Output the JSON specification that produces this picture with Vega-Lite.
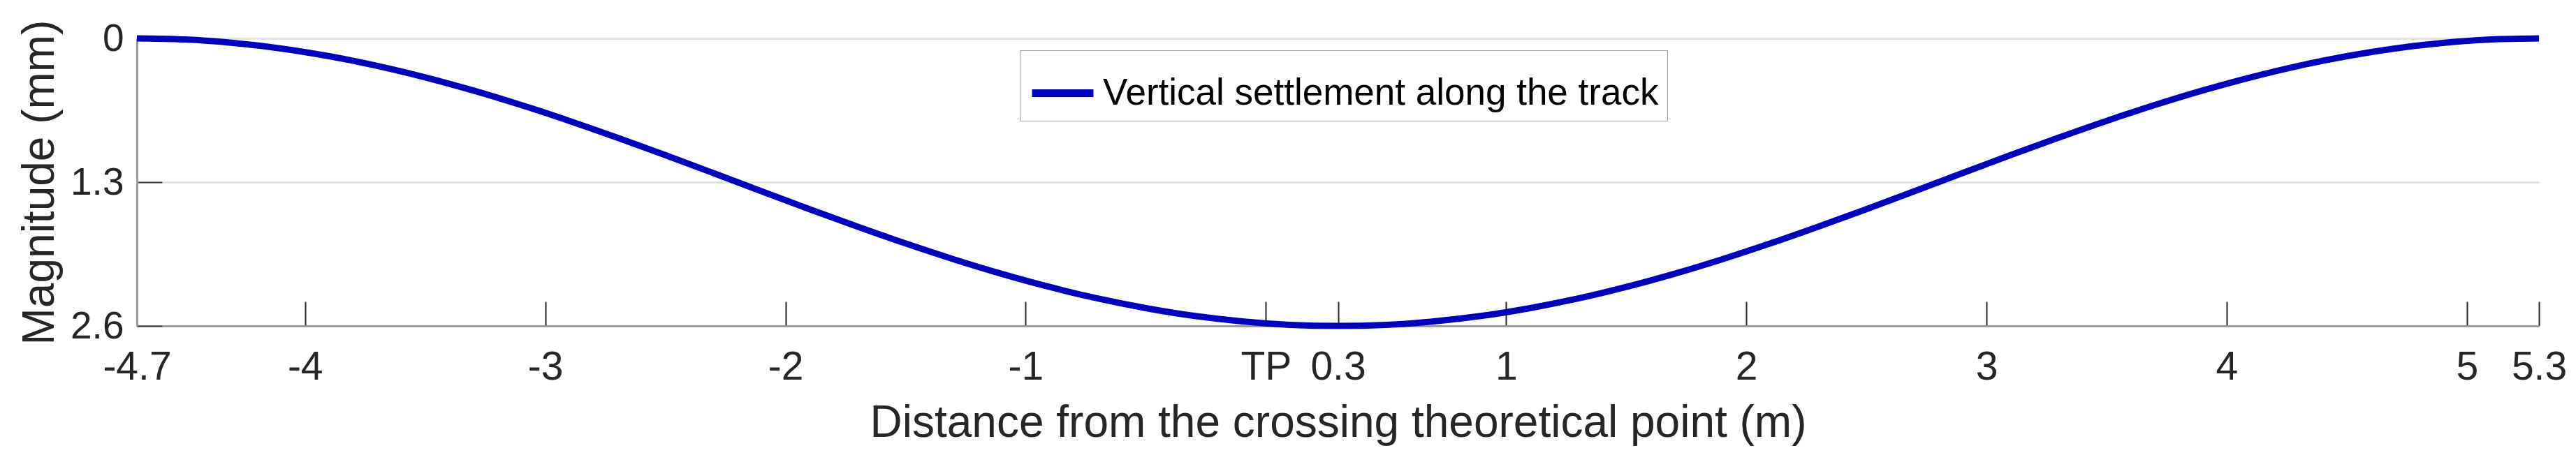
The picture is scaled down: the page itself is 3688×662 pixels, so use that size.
{
  "$schema": "https://vega.github.io/schema/vega-lite/v6.json",
  "autosize": "none",
  "width": 3439,
  "height": 412,
  "padding": {"left": 196, "top": 55, "right": 53, "bottom": 195},
  "background": "white",
  "config": {
    "view": {"stroke": null},
    "font": "Liberation Sans, Arial, sans-serif"
  },
  "data": {
    "values": [
      {"distance": -4.7, "settlement": 0.0, "series": "Vertical settlement along the track"},
      {"distance": -4.5, "settlement": 0.010, "series": "Vertical settlement along the track"},
      {"distance": -4.3, "settlement": 0.041, "series": "Vertical settlement along the track"},
      {"distance": -4.1, "settlement": 0.091, "series": "Vertical settlement along the track"},
      {"distance": -3.9, "settlement": 0.161, "series": "Vertical settlement along the track"},
      {"distance": -3.7, "settlement": 0.248, "series": "Vertical settlement along the track"},
      {"distance": -3.5, "settlement": 0.352, "series": "Vertical settlement along the track"},
      {"distance": -3.3, "settlement": 0.471, "series": "Vertical settlement along the track"},
      {"distance": -3.1, "settlement": 0.603, "series": "Vertical settlement along the track"},
      {"distance": -2.9, "settlement": 0.746, "series": "Vertical settlement along the track"},
      {"distance": -2.7, "settlement": 0.898, "series": "Vertical settlement along the track"},
      {"distance": -2.5, "settlement": 1.056, "series": "Vertical settlement along the track"},
      {"distance": -2.3, "settlement": 1.218, "series": "Vertical settlement along the track"},
      {"distance": -2.1, "settlement": 1.382, "series": "Vertical settlement along the track"},
      {"distance": -1.9, "settlement": 1.544, "series": "Vertical settlement along the track"},
      {"distance": -1.7, "settlement": 1.702, "series": "Vertical settlement along the track"},
      {"distance": -1.5, "settlement": 1.854, "series": "Vertical settlement along the track"},
      {"distance": -1.3, "settlement": 1.997, "series": "Vertical settlement along the track"},
      {"distance": -1.1, "settlement": 2.129, "series": "Vertical settlement along the track"},
      {"distance": -0.9, "settlement": 2.248, "series": "Vertical settlement along the track"},
      {"distance": -0.7, "settlement": 2.352, "series": "Vertical settlement along the track"},
      {"distance": -0.5, "settlement": 2.439, "series": "Vertical settlement along the track"},
      {"distance": -0.3, "settlement": 2.509, "series": "Vertical settlement along the track"},
      {"distance": -0.1, "settlement": 2.559, "series": "Vertical settlement along the track"},
      {"distance": 0.1, "settlement": 2.590, "series": "Vertical settlement along the track"},
      {"distance": 0.3, "settlement": 2.6, "series": "Vertical settlement along the track"},
      {"distance": 0.5, "settlement": 2.590, "series": "Vertical settlement along the track"},
      {"distance": 0.7, "settlement": 2.559, "series": "Vertical settlement along the track"},
      {"distance": 0.9, "settlement": 2.509, "series": "Vertical settlement along the track"},
      {"distance": 1.1, "settlement": 2.439, "series": "Vertical settlement along the track"},
      {"distance": 1.3, "settlement": 2.352, "series": "Vertical settlement along the track"},
      {"distance": 1.5, "settlement": 2.248, "series": "Vertical settlement along the track"},
      {"distance": 1.7, "settlement": 2.129, "series": "Vertical settlement along the track"},
      {"distance": 1.9, "settlement": 1.997, "series": "Vertical settlement along the track"},
      {"distance": 2.1, "settlement": 1.854, "series": "Vertical settlement along the track"},
      {"distance": 2.3, "settlement": 1.702, "series": "Vertical settlement along the track"},
      {"distance": 2.5, "settlement": 1.544, "series": "Vertical settlement along the track"},
      {"distance": 2.7, "settlement": 1.382, "series": "Vertical settlement along the track"},
      {"distance": 2.9, "settlement": 1.218, "series": "Vertical settlement along the track"},
      {"distance": 3.1, "settlement": 1.056, "series": "Vertical settlement along the track"},
      {"distance": 3.3, "settlement": 0.898, "series": "Vertical settlement along the track"},
      {"distance": 3.5, "settlement": 0.746, "series": "Vertical settlement along the track"},
      {"distance": 3.7, "settlement": 0.603, "series": "Vertical settlement along the track"},
      {"distance": 3.9, "settlement": 0.471, "series": "Vertical settlement along the track"},
      {"distance": 4.1, "settlement": 0.352, "series": "Vertical settlement along the track"},
      {"distance": 4.3, "settlement": 0.248, "series": "Vertical settlement along the track"},
      {"distance": 4.5, "settlement": 0.161, "series": "Vertical settlement along the track"},
      {"distance": 4.7, "settlement": 0.091, "series": "Vertical settlement along the track"},
      {"distance": 4.9, "settlement": 0.041, "series": "Vertical settlement along the track"},
      {"distance": 5.1, "settlement": 0.010, "series": "Vertical settlement along the track"},
      {"distance": 5.3, "settlement": 0.0, "series": "Vertical settlement along the track"}
    ]
  },
  "mark": {"type": "line", "strokeWidth": 9, "interpolate": "monotone", "clip": false},
  "encoding": {
    "x": {
      "field": "distance",
      "type": "quantitative",
      "scale": {"domain": [-4.7, 5.3], "nice": false, "zero": false},
      "axis": {
        "title": "Distance from the crossing theoretical point (m)",
        "titleFont": "Liberation Sans",
        "titleFontSize": 64,
        "titleFontWeight": "normal",
        "titleColor": "#262626",
        "titlePadding": 20,
        "values": [-4.7, -4, -3, -2, -1, 0, 0.3, 1, 2, 3, 4, 5, 5.3],
        "labelExpr": "datum.value == 0 ? 'TP' : toString(datum.value)",
        "labelFont": "Liberation Sans",
        "labelFontSize": 57,
        "labelColor": "#262626",
        "labelOverlap": false,
        "labelFlush": false,
        "labelBound": false,
        "labelPadding": 66,
        "tickSize": -35,
        "tickWidth": 2,
        "tickColor": "#262626",
        "domainColor": "#9a9a9a",
        "domainWidth": 3,
        "grid": false
      }
    },
    "y": {
      "field": "settlement",
      "type": "quantitative",
      "scale": {"domain": [0, 2.6], "reverse": true, "nice": false, "zero": false},
      "axis": {
        "title": "Magnitude (mm)",
        "titleFont": "Liberation Sans",
        "titleFontSize": 64,
        "titleFontWeight": "normal",
        "titleColor": "#262626",
        "titlePadding": 11,
        "values": [0, 1.3, 2.6],
        "labelExpr": "toString(datum.value)",
        "labelFont": "Liberation Sans",
        "labelFontSize": 55,
        "labelColor": "#262626",
        "labelOverlap": false,
        "labelFlush": false,
        "labelBound": false,
        "labelPadding": 55,
        "tickSize": -36,
        "tickWidth": 2,
        "tickColor": "#404040",
        "domainColor": "#9a9a9a",
        "domainWidth": 3,
        "grid": true,
        "gridColor": "#e3e3e3",
        "gridWidth": 3
      }
    },
    "color": {
      "field": "series",
      "type": "nominal",
      "scale": {"range": ["#0000c0"]},
      "legend": {
        "title": null,
        "orient": "none",
        "legendX": 1264,
        "legendY": 17,
        "padding": 12,
        "strokeColor": "#a0a0a0",
        "fillColor": "white",
        "symbolType": "stroke",
        "symbolSize": 7744,
        "symbolStrokeWidth": 11,
        "labelFont": "Liberation Sans Narrow, Arial Narrow, Liberation Sans",
        "labelFontSize": 53,
        "labelColor": "#000000",
        "labelLimit": 0,
        "labelOffset": 8
      }
    }
  }
}
